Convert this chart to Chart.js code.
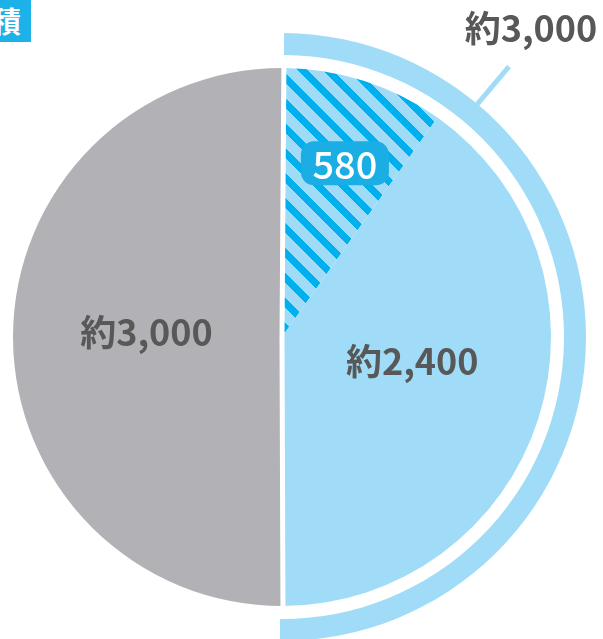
<!DOCTYPE html>
<html>
<head>
<meta charset="utf-8">
<script src="https://cdn.jsdelivr.net/npm/chart.js@4/dist/chart.umd.min.js"></script>
<style>
  html, body { margin: 0; padding: 0; background: #fff; overflow: hidden; }
  body { width: 603px; height: 639px; position: relative; }
  #wrap { position: absolute; left: -22px; top: 0; width: 625px; height: 641px; }
  #tag {
    position: absolute; left: 0; top: 0; width: 31px; height: 42px;
    background: #1cb1e8; color: #fff; overflow: hidden;
    font: bold 29px "Noto Sans CJK JP", sans-serif; line-height: 42px;
  }
  #tag span { position: absolute; left: -8px; top: -1px; }
</style>
</head>
<body>
<div id="wrap"><canvas id="pie"></canvas></div>
<div id="tag"><span>積</span></div>
<script>
const sliceLabels = ["580", "約2,400", "約3,000"];
const sliceValues = [580, 2400, 3000];
const ringValues = [3000, 3000];
const ringLabel = "約3,000";

const grey = "#b2b2b6";
const lightBlue = "#a0dcf7";
const stripeBlue = "#00afed";
const textGrey = "#585858";

// diagonal stripes, built pixel by pixel so tiles join without seams
function stripes(bg, fg, period, width) {
  const c = document.createElement("canvas");
  c.width = c.height = period;
  const g = c.getContext("2d");
  g.fillStyle = bg;
  g.fillRect(0, 0, period, period);
  g.fillStyle = fg;
  for (let y = 0; y < period; y++) {
    for (let x = 0; x < period; x++) {
      if ((((x - y) % period) + period) % period < width) g.fillRect(x, y, 1, 1);
    }
  }
  return g.createPattern(c, "repeat");
}

const hatch = stripes(lightBlue, stripeBlue, 25, 10);

// label placement: fraction of radius along the slice's middle angle, plus a nudge
const placement = [
  { frac: 0.69, dx: 6, dy: 3, box: true },
  { frac: 0.5, dx: 2, dy: -16 },
  { frac: 0.5, dx: -1, dy: -4 }
];

const labelPlugin = {
  id: "labels",
  afterDatasetsDraw(chart) {
    const ctx = chart.ctx;
    const pie = chart.getDatasetMeta(2).data;
    const ring = chart.getDatasetMeta(0).data[0];

    // white divider along the grey half
    const g = pie[2];
    ctx.save();
    ctx.strokeStyle = "#fff";
    ctx.lineWidth = 5;
    ctx.beginPath();
    ctx.moveTo(g.x + (g.outerRadius + 2) * Math.cos(g.startAngle), g.y + (g.outerRadius + 2) * Math.sin(g.startAngle));
    ctx.lineTo(g.x, g.y);
    ctx.lineTo(g.x + (g.outerRadius + 2) * Math.cos(g.endAngle), g.y + (g.outerRadius + 2) * Math.sin(g.endAngle));
    ctx.stroke();
    ctx.restore();

    ctx.save();
    ctx.textAlign = "center";
    ctx.textBaseline = "middle";
    pie.forEach((arc, i) => {
      const p = placement[i];
      const mid = (arc.startAngle + arc.endAngle) / 2;
      const x = arc.x + Math.cos(mid) * arc.outerRadius * p.frac + p.dx;
      const y = arc.y + Math.sin(mid) * arc.outerRadius * p.frac + p.dy;
      if (p.box) {
        ctx.font = '500 38px "Noto Sans CJK JP", sans-serif';
        ctx.fillStyle = "#1baee5";
        ctx.beginPath();
        ctx.roundRect(x - 44, y - 22, 88, 44, 13);
        ctx.fill();
        ctx.fillStyle = "#fff";
        ctx.fillText(sliceLabels[i], x, y + 1);
      } else {
        ctx.font = 'bold 36px "Noto Sans CJK JP", sans-serif';
        ctx.fillStyle = textGrey;
        ctx.fillText(sliceLabels[i], x, y);
      }
    });

    // callout for the outer ring
    const a = -Math.PI / 2 + 40 * Math.PI / 180;
    ctx.strokeStyle = lightBlue;
    ctx.lineWidth = 5;
    ctx.beginPath();
    ctx.moveTo(ring.x + Math.cos(a) * (ring.outerRadius - 2), ring.y + Math.sin(a) * (ring.outerRadius - 2));
    ctx.lineTo(ring.x + Math.cos(a) * (ring.outerRadius + 49), ring.y + Math.sin(a) * (ring.outerRadius + 49));
    ctx.stroke();
    ctx.font = 'bold 36px "Noto Sans CJK JP", sans-serif';
    ctx.fillStyle = textGrey;
    ctx.fillText(ringLabel, ring.x + 249, ring.y - 309);
    ctx.restore();
  }
};

new Chart(document.getElementById("pie"), {
  type: "doughnut",
  data: {
    labels: sliceLabels,
    datasets: [
      { data: ringValues, backgroundColor: [lightBlue, "rgba(0,0,0,0)"], borderWidth: 0, weight: 22 },
      { data: [1], backgroundColor: ["rgba(0,0,0,0)"], borderWidth: 0, weight: 13 },
      { data: sliceValues, backgroundColor: [hatch, lightBlue, grey], borderWidth: 0, weight: 269 }
    ]
  },
  options: {
    responsive: true,
    maintainAspectRatio: false,
    animation: false,
    events: [],
    cutout: 0,
    radius: 304,
    rotation: 0.4,
    layout: { padding: { top: 33, right: 17, left: 0, bottom: 0 } },
    plugins: { legend: { display: false }, tooltip: { enabled: false } }
  },
  plugins: [labelPlugin]
});
</script>
</body>
</html>
